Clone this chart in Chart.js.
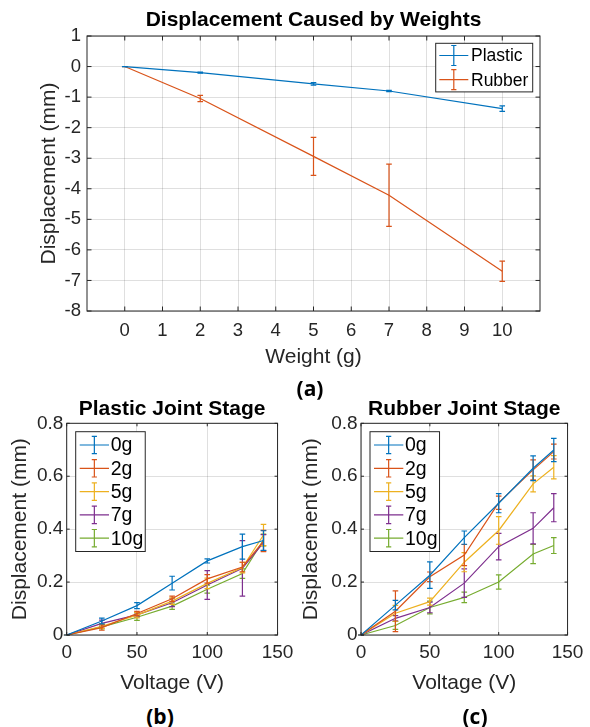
<!DOCTYPE html>
<html>
<head>
<meta charset="utf-8">
<script src="https://cdn.jsdelivr.net/npm/chart.js@4/dist/chart.umd.min.js"></script>
<style>
  html, body { margin: 0; padding: 0; background: #fff; }
  body { width: 590px; height: 727px; position: relative; overflow: hidden; }
  canvas { position: absolute; display: block; }
  .tag {
    position: absolute;
    font-family: "Open Sans", "Liberation Sans", sans-serif;
    font-weight: 700;
    font-size: 21px;
    line-height: 1;
    color: #000;
    white-space: nowrap;
    transform: translate(-50%, -50%);
  }
</style>
</head>
<body>
<canvas id="weights" width="590" height="372" style="left:0;top:0"></canvas>
<canvas id="plastic" width="300" height="312" style="left:0;top:385px"></canvas>
<canvas id="rubber" width="300" height="312" style="left:290px;top:385px"></canvas>
<div class="tag" style="left:310px;top:388px">(a)</div>
<div class="tag" style="left:160px;top:716px">(b)</div>
<div class="tag" style="left:475px;top:716px">(c)</div>

<script>
// ---- Weight test: displacement vs. applied weight ----
const weights = [0, 2, 5, 7, 10];
const plasticDisp = [0, -0.2, -0.565, -0.8, -1.375];
const plasticErr = [0, 0.015, 0.04, 0.02, 0.09];
const rubberDisp = [0, -1.045, -2.94, -4.21, -6.7];
const rubberErr = [0, 0.1, 0.62, 1.02, 0.33];
const weightTicks = [0, 1, 2, 3, 4, 5, 6, 7, 8, 9, 10];
const weightDispTicks = [-8, -7, -6, -5, -4, -3, -2, -1, 0, 1];

// ---- Voltage sweeps for each joint under different loads ----
const voltages = [0, 25, 50, 75, 100, 125, 140];
const loadLabels = ['0g', '2g', '5g', '7g', '10g'];

const plastic0g = [0, 0.053, 0.111, 0.196, 0.28, 0.334, 0.357];
const plastic0gErr = [0, 0.011, 0.011, 0.026, 0.008, 0.047, 0.037];
const plastic2g = [0, 0.028, 0.081, 0.137, 0.212, 0.257, 0.355];
const plastic2gErr = [0, 0.01, 0.008, 0.01, 0.016, 0.018, 0.04];
const plastic5g = [0, 0.033, 0.075, 0.128, 0.195, 0.255, 0.378];
const plastic5gErr = [0, 0.008, 0.01, 0.012, 0.02, 0.02, 0.04];
const plastic7g = [0, 0.044, 0.076, 0.122, 0.189, 0.252, 0.349];
const plastic7gErr = [0, 0.012, 0.008, 0.015, 0.054, 0.105, 0.03];
const plastic10g = [0, 0.031, 0.067, 0.109, 0.173, 0.232, 0.359];
const plastic10gErr = [0, 0.008, 0.012, 0.012, 0.015, 0.018, 0.022];

const rubber0g = [0, 0.113, 0.226, 0.368, 0.498, 0.63, 0.699];
const rubber0gErr = [0, 0.018, 0.05, 0.025, 0.036, 0.047, 0.044];
const rubber2g = [0, 0.09, 0.22, 0.302, 0.5, 0.624, 0.693];
const rubber2gErr = [0, 0.077, 0.018, 0.04, 0.025, 0.038, 0.028];
const rubber5g = [0, 0.082, 0.126, 0.275, 0.395, 0.571, 0.634];
const rubber5gErr = [0, 0.03, 0.013, 0.036, 0.052, 0.03, 0.044];
const rubber7g = [0, 0.063, 0.104, 0.196, 0.334, 0.403, 0.481];
const rubber7gErr = [0, 0.01, 0.02, 0.054, 0.05, 0.059, 0.053];
const rubber10g = [0, 0.036, 0.104, 0.142, 0.2, 0.306, 0.338];
const rubber10gErr = [0, 0.015, 0.024, 0.02, 0.027, 0.036, 0.03];

const voltageTicks = [0, 50, 100, 150];
const stageDispTicks = [0, 0.2, 0.4, 0.6, 0.8];

// ---- Styling ----
const FONT = '"Liberation Sans", Arial, Helvetica, sans-serif';
const INK = '#262626';
const GRID = 'rgba(38,38,38,0.15)';
const COLORS = ['#0072BD', '#D95319', '#EDB120', '#7E2F8E', '#77AC30'];

function series(label, xs, ys, errs, color) {
  return {
    label,
    data: xs.map((x, i) => ({ x, y: ys[i] })),
    errors: errs,
    borderColor: color,
    backgroundColor: color,
    borderWidth: 1.2,
    pointRadius: 0,
    tension: 0,
    fill: false
  };
}

// Vertical error bars with caps, drawn right after each line so stacking order follows the series order
const errorBarPlugin = {
  id: 'errorBars',
  afterDatasetDraw(chart, args, opts) {
    const ds = chart.data.datasets[args.index];
    if (!ds.errors) return;
    const { ctx, scales: { x: xs, y: ys } } = chart;
    const cap = opts.cap || 2.7;
    ctx.save();
    ctx.strokeStyle = ds.borderColor;
    ctx.lineWidth = 1.2;
    ctx.beginPath();
    ds.data.forEach((p, i) => {
      const e = ds.errors[i];
      const px = xs.getPixelForValue(p.x);
      const yTop = ys.getPixelForValue(p.y + e);
      const yBot = ys.getPixelForValue(p.y - e);
      ctx.moveTo(px, yTop); ctx.lineTo(px, yBot);
      ctx.moveTo(px - cap, yTop); ctx.lineTo(px + cap, yTop);
      ctx.moveTo(px - cap, yBot); ctx.lineTo(px + cap, yBot);
    });
    ctx.stroke();
    ctx.restore();
  }
};

// Box around the plot area with inward tick marks on all four sides
const framePlugin = {
  id: 'frame',
  afterDatasetsDraw(chart, args, opts) {
    const { ctx, chartArea: a, scales: { x: xs, y: ys } } = chart;
    const L = opts.tickLength || 4;
    ctx.save();
    ctx.strokeStyle = INK;
    ctx.lineWidth = 1;
    ctx.beginPath();
    xs.ticks.forEach(t => {
      const px = xs.getPixelForValue(t.value);
      ctx.moveTo(px, a.bottom); ctx.lineTo(px, a.bottom - L);
      ctx.moveTo(px, a.top); ctx.lineTo(px, a.top + L);
    });
    ys.ticks.forEach(t => {
      const py = ys.getPixelForValue(t.value);
      ctx.moveTo(a.left, py); ctx.lineTo(a.left + L, py);
      ctx.moveTo(a.right, py); ctx.lineTo(a.right - L, py);
    });
    ctx.stroke();
    ctx.strokeRect(a.left, a.top, a.right - a.left, a.bottom - a.top);
    ctx.restore();
  }
};

// Boxed legend inside the plot, each entry showing a line with an error-bar glyph
const boxLegendPlugin = {
  id: 'boxLegend',
  afterDraw(chart, args, o) {
    const { ctx, chartArea: a } = chart;
    const sets = chart.data.datasets;
    ctx.save();
    ctx.font = `${o.fontSize}px ${FONT}`;
    const textW = Math.max(...sets.map(d => ctx.measureText(d.label).width));
    const w = o.textX + textW + o.padRight;
    const h = o.firstRow * 2 + o.rowHeight * (sets.length - 1);
    const left = o.align === 'right' ? a.right - o.offsetX - w : a.left + o.offsetX;
    const top = a.top + o.offsetY;
    ctx.fillStyle = '#fff';
    ctx.fillRect(left, top, w, h);
    ctx.strokeStyle = INK;
    ctx.lineWidth = 1;
    ctx.strokeRect(left, top, w, h);
    sets.forEach((d, i) => {
      const cy = top + o.firstRow + i * o.rowHeight;
      const x0 = left + o.sampleStart, x1 = left + o.sampleEnd, xm = (x0 + x1) / 2;
      ctx.strokeStyle = d.borderColor;
      ctx.lineWidth = 1.2;
      ctx.beginPath();
      ctx.moveTo(x0, cy); ctx.lineTo(x1, cy);
      ctx.moveTo(xm, cy - o.barHalf); ctx.lineTo(xm, cy + o.barHalf);
      ctx.moveTo(xm - o.cap, cy - o.barHalf); ctx.lineTo(xm + o.cap, cy - o.barHalf);
      ctx.moveTo(xm - o.cap, cy + o.barHalf); ctx.lineTo(xm + o.cap, cy + o.barHalf);
      ctx.stroke();
      ctx.fillStyle = '#000';
      ctx.textAlign = 'left';
      ctx.textBaseline = 'middle';
      ctx.fillText(d.label, left + o.textX, cy + 1);
    });
    ctx.restore();
  }
};

function makeChart(id, datasets, c) {
  return new Chart(document.getElementById(id), {
    type: 'line',
    data: { datasets },
    plugins: [errorBarPlugin, framePlugin, boxLegendPlugin],
    options: {
      responsive: false,
      animation: false,
      events: [],
      layout: { padding: { left: 0, right: c.padRight, top: 0, bottom: 0 } },
      plugins: {
        legend: { display: false },
        tooltip: { enabled: false },
        title: {
          display: true,
          text: c.title,
          color: '#000',
          fullSize: false,
          font: { family: FONT, size: c.titleSize, weight: 'bold' },
          padding: { top: c.titlePadTop, bottom: c.titlePadBottom }
        },
        errorBars: { cap: 2.8 },
        frame: { tickLength: c.tickLength },
        boxLegend: c.legend
      },
      scales: {
        x: {
          type: 'linear',
          min: c.xMin,
          max: c.xMax,
          afterBuildTicks: s => { s.ticks = c.xTicks.map(v => ({ value: v })); },
          afterFit: s => { s.height = c.xHeight; },
          grid: { color: GRID, lineWidth: 1, drawTicks: false },
          border: { display: false },
          ticks: {
            color: INK,
            font: { family: FONT, size: c.tickSize },
            padding: c.xTickPad,
            maxRotation: 0,
            autoSkip: false,
            callback: v => String(v)
          },
          title: {
            display: true,
            text: c.xTitle,
            color: INK,
            font: { family: FONT, size: c.labelSize },
            padding: { top: 0, bottom: c.xTitlePad }
          }
        },
        y: {
          type: 'linear',
          min: c.yMin,
          max: c.yMax,
          afterBuildTicks: s => { s.ticks = c.yTicks.map(v => ({ value: v })); },
          afterFit: s => { s.width = c.yWidth; },
          grid: { color: GRID, lineWidth: 1, drawTicks: false },
          border: { display: false },
          ticks: {
            color: INK,
            font: { family: FONT, size: c.tickSize },
            padding: c.yTickPad,
            autoSkip: false,
            callback: v => String(v)
          },
          title: {
            display: true,
            text: c.yTitle,
            color: INK,
            font: { family: FONT, size: c.labelSize },
            padding: { top: c.yTitlePad, bottom: 0 }
          }
        }
      }
    }
  });
}

// (a) displacement caused by weights
makeChart('weights', [
  series('Plastic', weights, plasticDisp, plasticErr, COLORS[0]),
  series('Rubber', weights, rubberDisp, rubberErr, COLORS[1])
], {
  title: 'Displacement Caused by Weights', titleSize: 21, titlePadTop: 7.4, titlePadBottom: 3.4,
  xTitle: 'Weight (g)', yTitle: 'Displacement (mm)', labelSize: 21, tickSize: 18.5,
  xMin: -1, xMax: 11, xTicks: weightTicks, yMin: -8, yMax: 1, yTicks: weightDispTicks,
  xHeight: 61, xTickPad: 8.9, xTitlePad: 2.4, yWidth: 87, yTickPad: 6, yTitlePad: 36.4,
  padRight: 50, tickLength: 4.5,
  legend: { align: 'right', offsetX: 7.3, offsetY: 7.3, fontSize: 17.5, firstRow: 12.2, rowHeight: 24.2,
            sampleStart: 3.6, sampleEnd: 32.6, textX: 35.3, padRight: 4.3, barHalf: 10, cap: 2.6 }
});

const stageCommon = {
  titleSize: 21, titlePadTop: 11.2, titlePadBottom: 1.9,
  xTitle: 'Voltage (V)', yTitle: 'Displacement (mm)', labelSize: 21, tickSize: 19,
  xMin: 0, xMax: 150, xTicks: voltageTicks, yMin: 0, yMax: 0.8, yTicks: stageDispTicks,
  xHeight: 62, xTickPad: 6.6, xTitlePad: 1.4, yTickPad: 3.4, tickLength: 3,
  legend: { align: 'left', offsetX: 9, offsetY: 8.4, fontSize: 19.5, firstRow: 13.3, rowHeight: 23.3,
            sampleStart: 4, sampleEnd: 33.3, textX: 35, padRight: 2, barHalf: 8.7, cap: 2.6 }
};

// (b) plastic joint stage
makeChart('plastic', [
  series(loadLabels[0], voltages, plastic0g, plastic0gErr, COLORS[0]),
  series(loadLabels[1], voltages, plastic2g, plastic2gErr, COLORS[1]),
  series(loadLabels[2], voltages, plastic5g, plastic5gErr, COLORS[2]),
  series(loadLabels[3], voltages, plastic7g, plastic7gErr, COLORS[3]),
  series(loadLabels[4], voltages, plastic10g, plastic10gErr, COLORS[4])
], Object.assign({}, stageCommon, {
  title: 'Plastic Joint Stage', yWidth: 66.7, yTitlePad: 7.4, padRight: 20
}));

// (c) rubber joint stage
makeChart('rubber', [
  series(loadLabels[0], voltages, rubber0g, rubber0gErr, COLORS[0]),
  series(loadLabels[1], voltages, rubber2g, rubber2gErr, COLORS[1]),
  series(loadLabels[2], voltages, rubber5g, rubber5gErr, COLORS[2]),
  series(loadLabels[3], voltages, rubber7g, rubber7gErr, COLORS[3]),
  series(loadLabels[4], voltages, rubber10g, rubber10gErr, COLORS[4])
], Object.assign({}, stageCommon, {
  title: 'Rubber Joint Stage', yWidth: 71, yTitlePad: 9.1, padRight: 16.7
}));
</script>
</body>
</html>
